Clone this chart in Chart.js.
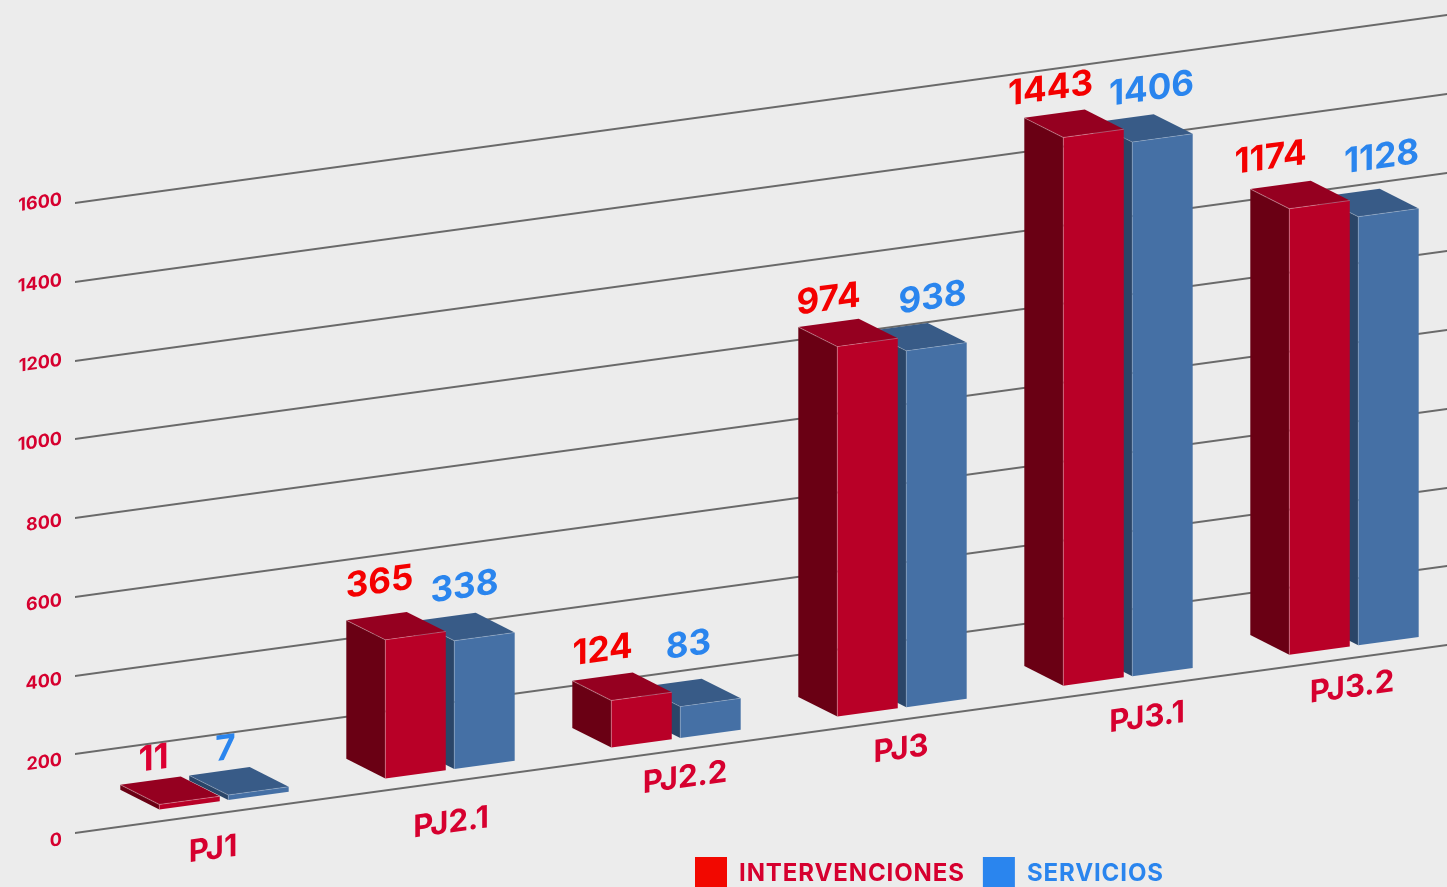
<!DOCTYPE html>
<html lang="es">
<head>
<meta charset="utf-8">
<title>Intervenciones y servicios</title>
<script src="https://cdn.jsdelivr.net/npm/chart.js@4"></script>
<style>
html,body{margin:0;padding:0;background:#ececec;overflow:hidden;width:1447px;height:887px}
canvas{display:block}
</style>
</head>
<body>
<canvas id="c" width="1467" height="887"></canvas>
<script>
const categories = ['PJ1','PJ2.1','PJ2.2','PJ3','PJ3.1','PJ3.2'];
const intervenciones = [11,365,124,974,1443,1174];
const servicios = [7,338,83,938,1406,1128];

const FONT = 'Inter, "Open Sans", sans-serif';
const SHEAR = 0.137, ORIGIN_X = 75;
const DEPTH_X = -39, DEPTH_Y = -25;

const faces = [
  {front:'#b90027', top:'#950020', side:'#6a0014', edge:'rgba(255,255,255,.28)'},
  {front:'#4570a5', top:'#385b87', side:'#2a4568', edge:'rgba(255,255,255,.22)'}
];
const legendColors = ['#f20800','#2a85ee'];
const legendText = ['#d6002f','#2a85ee'];
const valueColors = [
  ['#dc0032','#f40000','#f40000','#f40000','#f40000','#f40000'],
  ['#2a85ee','#2a85ee','#2a85ee','#2a85ee','#2a85ee','#2a85ee']
];
const valueDx = [[-36,-36,-39,-39,-43,-49],[-33,-20,-22,-4,-11,-7]];
const valueDy = [[-46,-58,-51,-48,-50,-53],[-46,-52,-60,-49,-50,-56]];
const catDx = [-11,1,9,-1,19,-2];
const catDy = [4,10,-3,-2,0,-2];
const tickDy = [5,4,2,2,1,-2,-2,-3,-5];

function quad(ctx,pts,fill){
  ctx.beginPath();
  pts.forEach((p,i)=> i?ctx.lineTo(p[0],p[1]):ctx.moveTo(p[0],p[1]));
  ctx.closePath();
  ctx.fillStyle=fill; ctx.fill();
}

const perspective = {
  id:'perspective',
  afterLayout(chart){
    const lg = chart.legend;
    if(!lg._flat){
      const draw = lg.draw;
      lg.draw = function(a){
        const c=this.ctx; c.save(); c.setTransform(1,0,0,1,0,0); c.letterSpacing='0.9px'; draw.call(this,a); c.letterSpacing='0px'; c.restore();
      };
      lg._flat = true;
    }
    const pad = lg.options.labels.padding;
    lg.left = 695 - pad; lg.right = chart.width; lg.top = 857 - pad; lg.bottom = chart.height + 40;
    lg.width = lg.right - lg.left;
    chart.scales.x.getLabelItems(chart.chartArea).forEach((it,i)=>{
      it.options.translation = [it.options.translation[0]+catDx[i], it.options.translation[1]+catDy[i]];
    });
    chart.scales.y.getLabelItems(chart.chartArea).forEach((it,i)=>{
      it.options.translation = [it.options.translation[0], it.options.translation[1]+tickDy[i]];
    });
  },
  beforeDraw(chart){
    const c=chart.ctx;
    c.save();
    c.fillStyle='#ececec';
    c.fillRect(0,0,chart.width,chart.height);
    c.transform(1,-SHEAR,0,1,0,SHEAR*ORIGIN_X);
  },
  beforeDatasetDraw(chart,args){
    const c=chart.ctx, f=faces[args.index];
    args.meta.data.forEach(el=>{
      const p=el.getProps(['x','y','base','width'],true);
      const l=p.x-p.width/2, r=p.x+p.width/2;
      quad(c,[[l,p.base],[l,p.y],[l+DEPTH_X,p.y+DEPTH_Y],[l+DEPTH_X,p.base+DEPTH_Y]],f.side);
      quad(c,[[l,p.y],[r,p.y],[r+DEPTH_X,p.y+DEPTH_Y],[l+DEPTH_X,p.y+DEPTH_Y]],f.top);
    });
  },
  afterDatasetDraw(chart,args){
    const c=chart.ctx, f=faces[args.index];
    args.meta.data.forEach(el=>{
      const p=el.getProps(['x','y','base','width'],true);
      const l=p.x-p.width/2, r=p.x+p.width/2;
      c.beginPath();
      c.moveTo(l,p.base); c.lineTo(l,p.y); c.lineTo(r,p.y);
      c.moveTo(l,p.y); c.lineTo(l+DEPTH_X,p.y+DEPTH_Y);
      c.strokeStyle=f.edge; c.lineWidth=1; c.stroke();
    });
  },
  afterDatasetsDraw(chart){
    const c=chart.ctx;
    c.save();
    c.font='700 35px '+FONT;
    c.textAlign='center'; c.textBaseline='middle';
    chart.data.datasets.forEach((ds,d)=>{
      chart.getDatasetMeta(d).data.forEach((el,i)=>{
        const p=el.getProps(['x','y'],true);
        c.fillStyle=valueColors[d][i];
        c.fillText(String(ds.data[i]), p.x+valueDx[d][i], p.y+valueDy[d][i]);
      });
    });
    c.restore();
  },
  afterDraw(chart){ chart.ctx.restore(); }
};

new Chart(document.getElementById('c'),{
  type:'bar',
  data:{
    labels:categories,
    datasets:[
      {label:'INTERVENCIONES',data:intervenciones,backgroundColor:faces[0].front,yAxisID:'yBars',
       categoryPercentage:0.61,barPercentage:0.877,minBarLength:5},
      {label:'SERVICIOS',data:servicios,backgroundColor:faces[1].front,yAxisID:'yBars',
       categoryPercentage:0.61,barPercentage:0.877,minBarLength:5}
    ]
  },
  options:{
    responsive:false,
    animation:false,
    events:[],
    layout:{padding:{top:142,left:0,right:0,bottom:0}},
    plugins:{
      tooltip:{enabled:false},
      legend:{
        display:true,position:'top',align:'start',
        labels:{
          boxWidth:32,boxHeight:33,padding:18,
          font:{family:FONT,size:24,weight:'700'},
          generateLabels(chart){
            return chart.data.datasets.map((ds,i)=>({
              text:ds.label,fillStyle:legendColors[i],strokeStyle:legendColors[i],lineWidth:0,
              fontColor:legendText[i],datasetIndex:i,hidden:false
            }));
          }
        }
      }
    },
    scales:{
      x:{
        grid:{display:false,drawTicks:false},
        border:{display:false},
        ticks:{color:'#d6002f',font:{family:FONT,size:31,weight:'700'},padding:13,maxRotation:0,autoSkip:false},
        afterFit(s){s.height=54;}
      },
      y:{
        position:'left',min:0,max:1600,
        grid:{color:'#6a6a6a',lineWidth:2,tickColor:'#6a6a6a',tickLength:36,drawTicks:true},
        border:{display:false},
        ticks:{stepSize:200,color:'#d6002f',font:{family:FONT,size:18,weight:'700'},padding:13,callback:v=>String(v)},
        afterFit(s){s.width=111;}
      },
      yBars:{
        display:false,position:'left',min:-31.5,max:1627,
        grid:{display:false}
      }
    }
  },
  plugins:[perspective]
});
</script>
</body>
</html>
